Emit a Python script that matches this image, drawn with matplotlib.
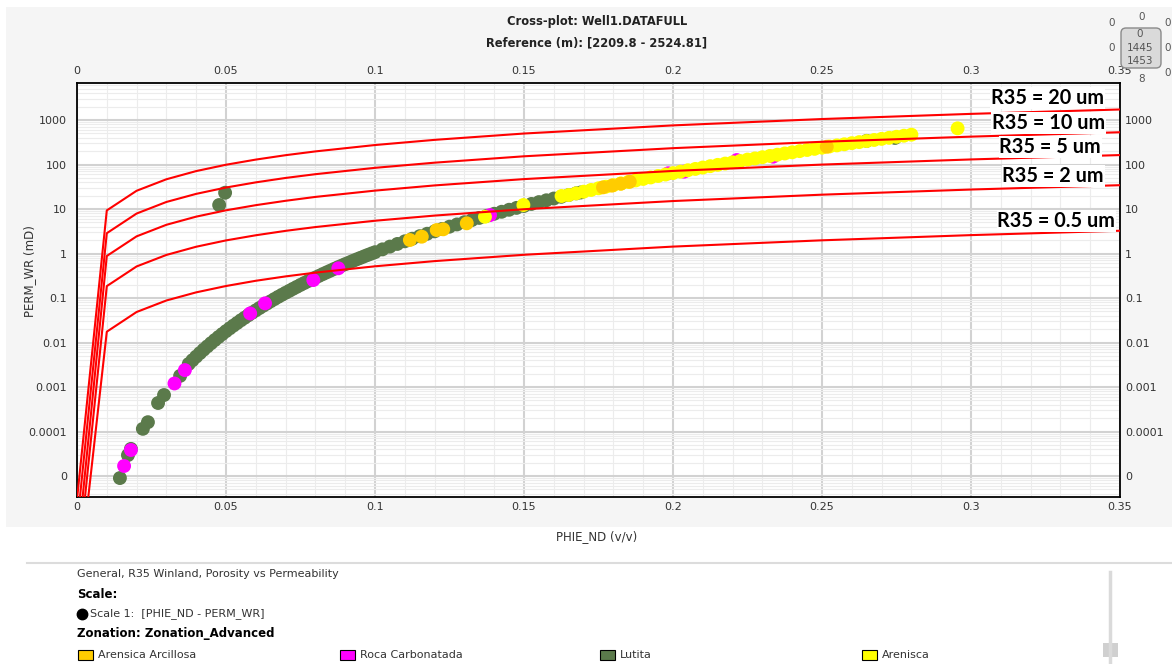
import numpy as np
import matplotlib
matplotlib.use('Agg')
import matplotlib.pyplot as plt
from matplotlib.patches import Rectangle, FancyBboxPatch
from matplotlib.lines import Line2D
from matplotlib.transforms import Affine2D
from matplotlib.ticker import LogLocator, NullFormatter, NullLocator, MultipleLocator

plt.rcParams['font.family'] = ['DejaVu Sans']

W, H = 1172, 664

# ---- axis setup ----
x_ticks = [0, 0.05, 0.1, 0.15, 0.2, 0.25, 0.3, 0.35]
x_labels = ['0', '0.05', '0.1', '0.15', '0.2', '0.25', '0.3', '0.35']
y_ticks = [1e-5, 1e-4, 1e-3, 1e-2, 1e-1, 1, 10, 100, 1000]
y_labels = ['0', '0.0001', '0.001', '0.01', '0.1', '1', '10', '100', '1000']

# ---- Winland R35 curves ----
r35_phi = [0.01, 0.02, 0.03, 0.04, 0.05, 0.06, 0.07, 0.08, 0.10, 0.12, 0.15, 0.20, 0.25, 0.30, 0.35]
r35_20 = [9.3, 25.7, 46.6, 71.2, 98.8, 129, 162, 197, 274, 358, 497, 757, 1052, 1374, 1725]
r35_10 = [2.86, 7.91, 14.4, 21.9, 30.4, 39.7, 49.9, 60.6, 84.2, 110, 153, 233, 324, 423, 531]
r35_5 = [0.88, 2.43, 4.42, 6.74, 9.35, 12.2, 15.3, 18.7, 25.9, 33.9, 47.0, 71.7, 99.6, 130, 163]
r35_2 = [0.185, 0.512, 0.929, 1.42, 1.97, 2.57, 3.23, 3.93, 5.45, 7.12, 9.89, 15.1, 21.0, 27.4, 34.3]
r35_05 = [0.0175, 0.0485, 0.088, 0.134, 0.186, 0.244, 0.306, 0.372, 0.516, 0.675, 0.936, 1.43, 1.98, 2.59, 3.25]
# where each curve leaves the bottom of the plot
r35_start_phi = [0.0001, 0.0010, 0.0019, 0.0027, 0.0038]
r35_names = ['R35 = 20 um', 'R35 = 10 um', 'R35 = 5 um', 'R35 = 2 um', 'R35 = 0.5 um']

# ---- samples by zone ----
lutita_phi = [0.0144, 0.0171, 0.0181, 0.0221, 0.0238, 0.0272, 0.0292, 0.0346, 0.0477, 0.0497,
              0.0375, 0.0400, 0.0425, 0.0450, 0.0475, 0.0500, 0.0525, 0.0550, 0.0575, 0.0600,
              0.0625, 0.0650, 0.0675, 0.0700, 0.0725, 0.0750, 0.0775, 0.0800, 0.0825, 0.0850,
              0.0875, 0.0900, 0.0925, 0.0950, 0.0975, 0.1000, 0.1025, 0.1050, 0.1075, 0.1100,
              0.1125, 0.1150, 0.1175, 0.1200, 0.1225, 0.1250, 0.1275, 0.1300, 0.1325, 0.1350,
              0.1375, 0.1400, 0.1425, 0.1450, 0.1475, 0.1500, 0.1525, 0.1550, 0.1575, 0.1600,
              0.1625, 0.1650, 0.1675, 0.1690, 0.2650, 0.2745,
              0.03875, 0.04125, 0.04375, 0.04625, 0.04875, 0.05125, 0.05375, 0.05625, 0.05875,
              0.06125, 0.06375, 0.06625, 0.06875, 0.07125, 0.07375, 0.07625, 0.07875, 0.08125,
              0.08375, 0.08625, 0.08875, 0.09125, 0.09375, 0.09625, 0.09875]
lutita_perm = [9.0e-6, 2.95e-5, 4.07e-5, 1.15e-4, 1.62e-4, 4.37e-4, 6.6e-4, 1.78e-3, 12.3, 23.2,
               3.30e-3, 4.82e-3, 6.90e-3, 9.66e-3, 1.33e-2, 1.80e-2, 2.40e-2, 3.16e-2, 4.10e-2, 5.27e-2,
               6.71e-2, 8.45e-2, 0.106, 0.131, 0.161, 0.197, 0.239, 0.288, 0.345, 0.411,
               0.489, 0.577, 0.678, 0.793, 0.925, 1.07, 1.24, 1.43, 1.64, 1.88,
               2.15, 2.45, 2.78, 3.15, 3.56, 4.01, 4.50, 5.05, 5.65, 6.31,
               7.03, 7.82, 8.67, 9.62, 10.6, 11.7, 13.0, 14.3, 15.7, 17.2,
               18.8, 20.6, 22.5, 23.5, 340, 395,
               4.00e-3, 5.78e-3, 8.18e-3, 1.135e-2, 1.55e-2, 2.08e-2, 2.75e-2, 3.60e-2, 4.66e-2,
               5.96e-2, 7.54e-2, 9.47e-2, 0.118, 0.145, 0.178, 0.217, 0.262, 0.315,
               0.377, 0.449, 0.531, 0.625, 0.734, 0.857, 0.997]

roca_phi = [0.0158, 0.0181, 0.0327, 0.0362, 0.0581, 0.0631, 0.0793, 0.0877, 0.1386,
            0.1984, 0.2037, 0.2214, 0.2336]
roca_perm = [1.68e-5, 3.84e-5, 1.20e-3, 2.40e-3, 4.5e-2, 7.6e-2, 0.253, 0.465, 7.3,
             63.6, 69.0, 126, 150]

arenisca_phi = [0.1369, 0.1498, 0.1626, 0.2955,
                0.1650, 0.1675, 0.1700, 0.1725, 0.1750, 0.1775, 0.1800, 0.1825, 0.1850, 0.1875,
                0.1900, 0.1925, 0.1950, 0.1975, 0.2000, 0.2025, 0.2050, 0.2075, 0.2100, 0.2125,
                0.2150, 0.2175, 0.2200, 0.2225, 0.2250, 0.2275, 0.2300, 0.2325, 0.2350, 0.2375,
                0.2400, 0.2425, 0.2450, 0.2475, 0.2500, 0.2525, 0.2550, 0.2575, 0.2600, 0.2625,
                0.2650, 0.2675, 0.2700, 0.2725, 0.2750, 0.2775, 0.2800]
arenisca_perm = [6.7, 12.3, 19.6, 650,
                 20.6, 22.5, 24.5, 26.8, 29.2, 31.7, 34.4, 37.4, 40.5, 43.9,
                 47.4, 51.2, 55.2, 59.6, 64.1, 69.0, 74.3, 79.6, 85.5, 91.8,
                 98.2, 105, 112, 120, 129, 137, 146, 156, 166, 177,
                 188, 200, 212, 225, 239, 254, 269, 285, 302, 319,
                 337, 356, 377, 398, 420, 444, 468]

arcillosa_phi = [0.1117, 0.1157, 0.1207, 0.1229, 0.1308, 0.1765, 0.1795, 0.1825, 0.1855, 0.2516]
arcillosa_perm = [2.01, 2.39, 3.37, 3.50, 4.77, 30.7, 33.5, 37.0, 41.0, 251]

zone_names = ['Arensica Arcillosa', 'Roca Carbonatada', 'Lutita', 'Arenisca']
zone_colors = ['#ffcc00', '#ff00ff', '#5b7a4b', '#ffff00']

fig = plt.figure(figsize=(W / 100, H / 100), dpi=100, facecolor='white')
# pixel coordinates, origin at top-left
px = Affine2D().scale(1.0 / W, -1.0 / H).translate(0, 1) + fig.transFigure

fig.patches.append(Rectangle((6, 7), W - 6, 520, transform=px, facecolor='#f5f5f5',
                             edgecolor='none', zorder=-10))

top, bot, left, right = 83.3, 496.7, 77, 1120
ax = fig.add_axes([left / W, 1 - bot / H, (right - left) / W, (bot - top) / H])
ax.set_facecolor('white')
ax.set_xlim(0, 0.35)
ax.set_yscale('log')
ylim = (10 ** -5.465, 10 ** 3.825)
ax.set_ylim(ylim)
ax.set_xticks(x_ticks)
ax.set_xticklabels(x_labels)
ax.set_yticks(y_ticks)
ax.set_yticklabels(y_labels)
ax.xaxis.set_minor_locator(MultipleLocator(0.01))
ax.yaxis.set_minor_locator(LogLocator(base=10, subs=range(2, 10), numticks=20))
ax.yaxis.set_minor_formatter(NullFormatter())
ax.tick_params(which='both', length=0, labelsize=8, labelcolor='#333333')
ax.tick_params(axis='x', pad=4)
ax.tick_params(axis='y', pad=7)
ax.set_axisbelow(True)
ax.grid(which='major', color='#d2d2d2', lw=1.5)
ax.grid(which='minor', color='#ececec', lw=0.8)
for s in ax.spines.values():
    s.set_color('black')
    s.set_linewidth(1.3)

axt = ax.twiny()
axt.set_xlim(0, 0.35)
axt.set_xticks(x_ticks)
axt.set_xticklabels(x_labels)
axt.tick_params(length=0, labelsize=8, labelcolor='#333333', pad=5)
axr = ax.twinx()
axr.set_yscale('log')
axr.set_ylim(ylim)
axr.set_yticks(y_ticks)
axr.set_yticklabels(y_labels)
axr.yaxis.set_minor_locator(NullLocator())
axr.tick_params(length=0, labelsize=8, labelcolor='#333333', pad=3.5)
for a in (axt, axr):
    for s in a.spines.values():
        s.set_visible(False)

# scatter by zonation
ms = 100
ax.scatter(lutita_phi, lutita_perm, s=ms, color=zone_colors[2], edgecolors='none', zorder=3)
ax.scatter(roca_phi, roca_perm, s=ms, color=zone_colors[1], edgecolors='none', zorder=4)
ax.scatter(arenisca_phi, arenisca_perm, s=ms, color=zone_colors[3], edgecolors='none', zorder=5)
ax.scatter(arcillosa_phi, arcillosa_perm, s=ms, color=zone_colors[0], edgecolors='none', zorder=6)

# R35 curves
for p0, perm in zip(r35_start_phi, [r35_20, r35_10, r35_5, r35_2, r35_05]):
    ax.plot([p0] + r35_phi, [ylim[0]] + perm, color='red', lw=1.5, zorder=7, clip_on=True)

label_pos = [(1104, 98), (1105, 123), (1101, 147), (1104, 176), (1115, 221)]
for name, (lx, ly) in zip(r35_names, label_pos):
    fig.text(lx, ly, name, transform=px, ha='right', va='center', family='Lato',
             weight='bold', size=14.3, color='black',
             bbox=dict(facecolor='white', edgecolor='none', pad=0.5))

# titles and axis labels
fig.text(597, 22, 'Cross-plot: Well1.DATAFULL', transform=px, ha='center', va='center',
         weight='bold', size=8.3, color='#222222')
fig.text(597, 43, 'Reference (m): [2209.8 - 2524.81]', transform=px, ha='center', va='center',
         weight='bold', size=8.3, color='#222222')
fig.text(597, 537, 'PHIE_ND (v/v)', transform=px, ha='center', va='center', size=8.5,
         color='#333333')
fig.text(30, 271, 'PERM_WR (mD)', transform=px, ha='center', va='center', size=8.5,
         rotation=90, color='#333333')

# little navigator box in the corner
fig.patches.append(FancyBboxPatch((1121, 28), 40, 40, transform=px,
                                  boxstyle='round,pad=0,rounding_size=5',
                                  facecolor='#dadada', edgecolor='#8a8a8a', lw=1))
for tx, ty, tt in [(1142, 17, '0'), (1112, 23, '0'), (1168, 23, '0'), (1112, 48, '0'),
                   (1168, 48, '0'), (1168, 73, '0'), (1142, 79, '8'),
                   (1140, 34, '0'), (1140, 48, '1445'), (1140, 61, '1453')]:
    fig.text(tx, ty, tt, transform=px, ha='center', va='center', size=7.5, color='#555555')

# legend panel
fig.lines.append(Line2D([27, W], [563, 563], transform=px, color='#dcdcdc', lw=1.5))
fig.text(77, 574, 'General, R35 Winland, Porosity vs Permeability', transform=px,
         ha='left', va='center', size=8, color='#333333')
fig.text(77, 594, 'Scale:', transform=px, ha='left', va='center', size=8.5, weight='bold',
         color='black')
fig.lines.append(Line2D([82], [614], transform=px, marker='o', markersize=7.5,
                        color='black', lw=0))
fig.text(90, 614, 'Scale 1:  [PHIE_ND - PERM_WR]', transform=px, ha='left', va='center',
         size=8, color='#333333')
fig.text(77, 634, 'Zonation: Zonation_Advanced', transform=px, ha='left', va='center',
         size=8.5, weight='bold', color='black')
for lx, name, c in zip([78, 340, 600, 862], zone_names, zone_colors):
    fig.patches.append(Rectangle((lx, 650), 15, 10, transform=px, facecolor=c,
                                 edgecolor='black', lw=0.8))
    fig.text(lx + 20, 655, name, transform=px, ha='left', va='center', size=8,
             color='#333333')

# scroll bar
fig.lines.append(Line2D([1110, 1110], [572, H], transform=px, color='#dadada', lw=2.5))
fig.patches.append(Rectangle((1103, 643), 15, 14, transform=px, facecolor='#d0d0d0',
                             edgecolor='none'))

fig.savefig('out.png', dpi=100, facecolor='white')
